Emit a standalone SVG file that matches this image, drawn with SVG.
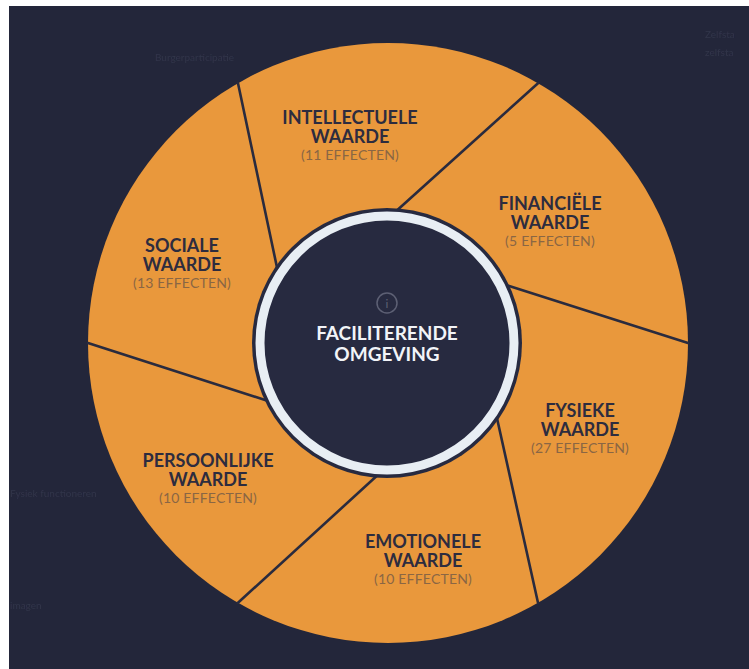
<svg xmlns="http://www.w3.org/2000/svg" width="749" height="669" viewBox="0 0 749 669">
  <style>
    .title { font-family: Lato, "Open Sans", "Liberation Sans", sans-serif; font-weight: 700; font-size: 18px; fill: #2d2c3f; text-anchor: middle; }
    .count { font-family: Lato, "Open Sans", "Liberation Sans", sans-serif; font-weight: 400; font-size: 14px; fill: #8a6644; text-anchor: middle; letter-spacing: 0.2px; }
    .center { font-family: Lato, "Open Sans", "Liberation Sans", sans-serif; font-weight: 700; font-size: 19px; fill: #f2f4f8; text-anchor: middle; }
    .ghost { font-family: Lato, "Open Sans", "Liberation Sans", sans-serif; font-size: 10px; fill: #313449; }
    .divider { stroke: #2a2b3e; stroke-width: 2.6; stroke-linecap: round; fill: none; }
  </style>
  <defs>
    <filter id="soft" x="-10%" y="-50%" width="120%" height="200%">
      <feGaussianBlur stdDeviation="0.7"/>
    </filter>
  </defs>

  <!-- page background -->
  <rect x="0" y="0" width="749" height="669" fill="#23263a"/>
  <rect x="0" y="0" width="749" height="6" fill="#ffffff"/>
  <rect x="0" y="0" width="9" height="669" fill="#ffffff"/>

  <!-- faint labels in the backdrop -->
  <g id="backdrop-labels" filter="url(#soft)">
    <text class="ghost" x="155" y="61">Burgerparticipatie</text>
    <text class="ghost" x="705" y="38">Zelfsta</text>
    <text class="ghost" x="705" y="56">zelfsta</text>
    <text class="ghost" x="10" y="497">Fysiek functioneren</text>
    <text class="ghost" x="10" y="609">imagen</text>
  </g>

  <!-- outer orange disc -->
  <g id="wheel">
    <circle cx="388" cy="343" r="300" fill="#e9983c"/>
  </g>

  <!-- shutter-style dividers between the segments -->
  <g id="connectors">
    <line class="divider" x1="688" y1="343" x2="502.8" y2="284.0"/>
    <line class="divider" x1="538" y1="602.8" x2="496.0" y2="413.8"/>
    <line class="divider" x1="238" y1="602.8" x2="380.2" y2="472.8"/>
    <line class="divider" x1="88" y1="343" x2="271.2" y2="402.0"/>
    <line class="divider" x1="238" y1="83.2" x2="278.0" y2="272.2"/>
    <line class="divider" x1="538" y1="83.2" x2="393.8" y2="213.2"/>
  </g>

  <!-- segment labels -->
  <g id="intellectuele">
    <text class="title" x="350" y="124">INTELLECTUELE</text>
    <text class="title" x="350" y="143">WAARDE</text>
    <text class="count" x="350" y="160">(11 EFFECTEN)</text>
  </g>
  <g id="financiele">
    <text class="title" x="550" y="210">FINANCIËLE</text>
    <text class="title" x="550" y="229">WAARDE</text>
    <text class="count" x="550" y="246">(5 EFFECTEN)</text>
  </g>
  <g id="fysieke">
    <text class="title" x="580" y="417">FYSIEKE</text>
    <text class="title" x="580" y="436">WAARDE</text>
    <text class="count" x="580" y="453">(27 EFFECTEN)</text>
  </g>
  <g id="emotionele">
    <text class="title" x="423" y="548">EMOTIONELE</text>
    <text class="title" x="423" y="567">WAARDE</text>
    <text class="count" x="423" y="584">(10 EFFECTEN)</text>
  </g>
  <g id="persoonlijke">
    <text class="title" x="208" y="467">PERSOONLIJKE</text>
    <text class="title" x="208" y="486">WAARDE</text>
    <text class="count" x="208" y="503">(10 EFFECTEN)</text>
  </g>
  <g id="sociale">
    <text class="title" x="182" y="252">SOCIALE</text>
    <text class="title" x="182" y="271">WAARDE</text>
    <text class="count" x="182" y="288">(13 EFFECTEN)</text>
  </g>

  <!-- central hub -->
  <g id="faciliterende-omgeving">
    <circle cx="387" cy="343" r="135" fill="#272a40"/>
    <circle cx="387" cy="343" r="127" fill="none" stroke="#e8eef4" stroke-width="9"/>
    <circle cx="387" cy="303" r="10" fill="none" stroke="#5d6074" stroke-width="1.5"/>
    <text x="387" y="308" font-family="Lato, 'Liberation Serif', serif" font-size="12" fill="#5d6074" text-anchor="middle">i</text>
    <text class="center" x="387" y="340">FACILITERENDE</text>
    <text class="center" x="387" y="361">OMGEVING</text>
  </g>
</svg>
